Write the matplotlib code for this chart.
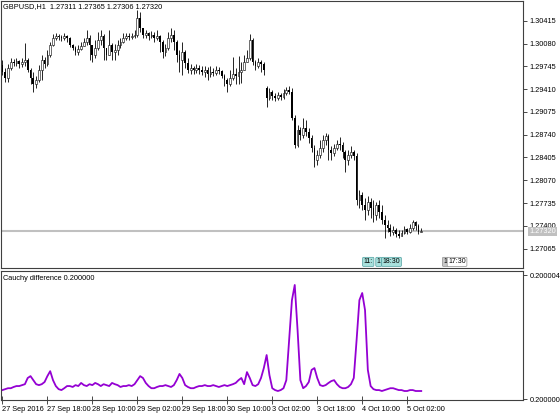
import numpy as np
import matplotlib.pyplot as plt

symbol = "GBPUSD,H1"

# hourly bars, 27 Sep 2016 02:00 .. 5 Oct 2016 07:00
opens = [
    1.29765, 1.29662, 1.29574, 1.29720, 1.29809, 1.29794, 1.29823, 1.29779, 1.29809, 1.29838,
    1.29691, 1.29574, 1.29485, 1.29544, 1.29691, 1.29838, 1.29779, 1.29912, 1.30059, 1.30161,
    1.30191, 1.30176, 1.30161, 1.30191, 1.30161, 1.30059, 1.30014, 1.29956, 1.30000, 1.30044,
    1.30103, 1.30161, 1.30059, 1.29912, 1.30014, 1.30132, 1.30191, 1.30014, 1.29912, 1.30059,
    1.29956, 1.29985, 1.30059, 1.30103, 1.30161, 1.30191, 1.30176, 1.30191, 1.30206, 1.30455,
    1.30308, 1.30206, 1.30235, 1.30191, 1.30206, 1.30161, 1.30191, 1.30103, 1.29956, 1.30014,
    1.30161, 1.30206, 1.30103, 1.29912, 1.29838, 1.29956, 1.29794, 1.29691, 1.29720, 1.29691,
    1.29720, 1.29691, 1.29662, 1.29691, 1.29632, 1.29662, 1.29647, 1.29691, 1.29676, 1.29603,
    1.29544, 1.29485, 1.29574, 1.29632, 1.29603, 1.29662, 1.29691, 1.29809, 1.29867, 1.30132,
    1.29809, 1.29750, 1.29809, 1.29779,
    1.29426, 1.29279, 1.29368, 1.29309, 1.29279, 1.29324, 1.29294, 1.29353, 1.29397, 1.29368,
    1.28985, 1.28589, 1.28809, 1.28736, 1.28838, 1.28780, 1.28691, 1.28544, 1.28368, 1.28442,
    1.28544, 1.28662, 1.28721, 1.28515, 1.28471, 1.28544, 1.28603, 1.28589, 1.28486, 1.28368,
    1.28442, 1.28486, 1.28427, 1.27780, 1.27854, 1.27707, 1.27633, 1.27751, 1.27662, 1.27560,
    1.27707, 1.27604, 1.27486, 1.27413, 1.27368, 1.27310, 1.27339, 1.27280, 1.27251, 1.27295,
    1.27354, 1.27310, 1.27368, 1.27457, 1.27398, 1.27311,
]
highs = [
    1.29838, 1.29720, 1.29779, 1.29867, 1.29853, 1.29867, 1.29838, 1.29867, 1.30088, 1.29867,
    1.29720, 1.29662, 1.29603, 1.29765, 1.29912, 1.29882, 1.29985, 1.30103, 1.30220, 1.30235,
    1.30220, 1.30206, 1.30235, 1.30206, 1.30176, 1.30073, 1.30044, 1.30059, 1.30103, 1.30161,
    1.30279, 1.30206, 1.30059, 1.30132, 1.30250, 1.30279, 1.30220, 1.30014, 1.30279, 1.30088,
    1.30073, 1.30132, 1.30161, 1.30235, 1.30235, 1.30235, 1.30235, 1.30279, 1.30573, 1.30544,
    1.30308, 1.30279, 1.30250, 1.30264, 1.30250, 1.30279, 1.30206, 1.30132, 1.30073, 1.30250,
    1.30308, 1.30279, 1.30132, 1.29985, 1.30103, 1.29985, 1.29867, 1.29779, 1.29750, 1.29779,
    1.29765, 1.29750, 1.29750, 1.29735, 1.29750, 1.29720, 1.29750, 1.29735, 1.29691, 1.29632,
    1.29574, 1.29691, 1.29882, 1.29720, 1.29897, 1.29809, 1.29912, 1.29985, 1.30220, 1.30161,
    1.29838, 1.29867, 1.29838, 1.29809,
    1.29456, 1.29426, 1.29397, 1.29353, 1.29368, 1.29353, 1.29412, 1.29441, 1.29456, 1.29426,
    1.29029, 1.28883, 1.28853, 1.28985, 1.28956, 1.28838, 1.28736, 1.28589, 1.28515, 1.28662,
    1.28736, 1.28765, 1.28750, 1.28574, 1.28603, 1.28662, 1.28706, 1.28633, 1.28515, 1.28515,
    1.28574, 1.28515, 1.28471, 1.27927, 1.27898, 1.27809, 1.27839, 1.27809, 1.27780, 1.27751,
    1.27780, 1.27707, 1.27560, 1.27486, 1.27427, 1.27398, 1.27368, 1.27339, 1.27339, 1.27398,
    1.27368, 1.27427, 1.27486, 1.27471, 1.27427, 1.27365,
]
lows = [
    1.29618, 1.29515, 1.29515, 1.29691, 1.29750, 1.29750, 1.29720, 1.29735, 1.29750, 1.29662,
    1.29485, 1.29368, 1.29426, 1.29515, 1.29544, 1.29720, 1.29750, 1.29882, 1.30044, 1.30132,
    1.30132, 1.30117, 1.30132, 1.30103, 1.30029, 1.29985, 1.29912, 1.29912, 1.29985, 1.30044,
    1.30059, 1.29838, 1.29809, 1.29867, 1.29985, 1.30059, 1.29838, 1.29838, 1.29912, 1.29838,
    1.29838, 1.29912, 1.30014, 1.30088, 1.30132, 1.30132, 1.30147, 1.30161, 1.30176, 1.30250,
    1.30161, 1.30161, 1.30132, 1.30161, 1.30103, 1.30132, 1.29956, 1.29867, 1.29897, 1.29985,
    1.30103, 1.29985, 1.29809, 1.29662, 1.29618, 1.29720, 1.29647, 1.29632, 1.29632, 1.29647,
    1.29632, 1.29618, 1.29588, 1.29544, 1.29588, 1.29603, 1.29618, 1.29632, 1.29574, 1.29456,
    1.29368, 1.29456, 1.29544, 1.29485, 1.29485, 1.29500, 1.29691, 1.29809, 1.29838, 1.29765,
    1.29691, 1.29720, 1.29662, 1.29618,
    1.29147, 1.29250, 1.29250, 1.29235, 1.29250, 1.29250, 1.29265, 1.29324, 1.29338, 1.28956,
    1.28544, 1.28559, 1.28662, 1.28691, 1.28721, 1.28618, 1.28486, 1.28265, 1.28295, 1.28397,
    1.28486, 1.28589, 1.28368, 1.28368, 1.28427, 1.28515, 1.28515, 1.28397, 1.28192, 1.28295,
    1.28397, 1.28368, 1.27707, 1.27662, 1.27633, 1.27486, 1.27560, 1.27516, 1.27457, 1.27486,
    1.27516, 1.27427, 1.27221, 1.27310, 1.27251, 1.27266, 1.27236, 1.27221, 1.27251, 1.27280,
    1.27280, 1.27295, 1.27339, 1.27339, 1.27280, 1.27306,
]
closes = [
    1.29662, 1.29574, 1.29720, 1.29809, 1.29794, 1.29823, 1.29779, 1.29809, 1.29838, 1.29691,
    1.29574, 1.29485, 1.29544, 1.29691, 1.29838, 1.29779, 1.29912, 1.30059, 1.30161, 1.30191,
    1.30176, 1.30161, 1.30191, 1.30161, 1.30059, 1.30014, 1.29956, 1.30000, 1.30044, 1.30103,
    1.30161, 1.30059, 1.29912, 1.30014, 1.30132, 1.30191, 1.30014, 1.29912, 1.30059, 1.29956,
    1.29985, 1.30059, 1.30103, 1.30161, 1.30191, 1.30176, 1.30191, 1.30206, 1.30455, 1.30308,
    1.30206, 1.30235, 1.30191, 1.30206, 1.30161, 1.30191, 1.30103, 1.29956, 1.30014, 1.30161,
    1.30206, 1.30103, 1.29912, 1.29838, 1.29956, 1.29794, 1.29691, 1.29720, 1.29691, 1.29720,
    1.29691, 1.29662, 1.29691, 1.29632, 1.29662, 1.29647, 1.29691, 1.29676, 1.29603, 1.29544,
    1.29485, 1.29574, 1.29632, 1.29603, 1.29662, 1.29691, 1.29809, 1.29867, 1.30132, 1.29809,
    1.29750, 1.29809, 1.29779, 1.29691,
    1.29279, 1.29368, 1.29309, 1.29279, 1.29324, 1.29294, 1.29353, 1.29397, 1.29368, 1.28985,
    1.28589, 1.28809, 1.28736, 1.28838, 1.28780, 1.28691, 1.28544, 1.28368, 1.28442, 1.28544,
    1.28662, 1.28721, 1.28515, 1.28471, 1.28544, 1.28603, 1.28589, 1.28486, 1.28368, 1.28442,
    1.28486, 1.28427, 1.27780, 1.27854, 1.27707, 1.27633, 1.27751, 1.27662, 1.27560, 1.27707,
    1.27604, 1.27486, 1.27413, 1.27368, 1.27310, 1.27339, 1.27280, 1.27251, 1.27295, 1.27354,
    1.27310, 1.27368, 1.27457, 1.27398, 1.27311, 1.27320,
]

# Cauchy difference minus 0.2, in millionths
cauchy_micro = [
    0.29, 0.32, 0.35, 0.35, 0.39, 0.42, 0.42, 0.45, 0.48, 0.68,
    0.74, 0.61, 0.48, 0.45, 0.48, 0.55, 0.74, 0.90, 0.61, 0.42,
    0.32, 0.29, 0.35, 0.42, 0.42, 0.39, 0.45, 0.42, 0.52, 0.45,
    0.42, 0.48, 0.45, 0.52, 0.48, 0.42, 0.48, 0.45, 0.42, 0.52,
    0.48, 0.45, 0.39, 0.42, 0.42, 0.45, 0.42, 0.48, 0.61, 0.74,
    0.68, 0.52, 0.42, 0.35, 0.35, 0.39, 0.42, 0.42, 0.45, 0.42,
    0.39, 0.45, 0.61, 0.81, 0.68, 0.45, 0.39, 0.35, 0.35, 0.39,
    0.42, 0.42, 0.45, 0.42, 0.42, 0.45, 0.42, 0.39, 0.42, 0.45,
    0.42, 0.45, 0.48, 0.52, 0.61, 0.68, 0.48, 0.87, 0.68, 0.45,
    0.42, 0.48, 0.68, 1.00, 1.42, 0.77, 0.35, 0.29, 0.26, 0.29,
    0.35, 0.61, 1.90, 3.19, 3.68, 2.23, 0.61, 0.35, 0.42, 0.55,
    0.94, 1.00, 0.68, 0.45, 0.42, 0.45, 0.52, 0.58, 0.61, 0.48,
    0.39, 0.35, 0.35, 0.39, 0.48, 0.68, 1.90, 3.19, 3.42, 2.87,
    0.94, 0.42, 0.32, 0.29, 0.29, 0.26, 0.29, 0.32, 0.35, 0.35,
    0.32, 0.29, 0.29, 0.26, 0.26, 0.29, 0.29, 0.26, 0.26, 0.26,
]

date_ticks = [0, 16, 32, 48, 64, 80, 96, 112, 128, 144]
date_labels = ["27 Sep 2016", "27 Sep 18:00", "28 Sep 10:00", "29 Sep 02:00",
               "29 Sep 18:00", "30 Sep 10:00", "3 Oct 02:00", "3 Oct 18:00",
               "4 Oct 10:00", "5 Oct 02:00"]
price_ticks = [1.30415, 1.30080, 1.29745, 1.29410, 1.29075, 1.28740,
               1.28405, 1.28070, 1.27735, 1.27400, 1.27065]

plt.rcParams['font.family'] = ['Liberation Sans', 'DejaVu Sans']
plt.rcParams['font.size'] = 5.3

W, H = 560, 420
fig = plt.figure(figsize=(W / 100, H / 100), dpi=100)


def px_axes(x0, y0, x1, y1):
    # axes from pixel box (top-left origin)
    return fig.add_axes([x0 / W, 1 - y1 / H, (x1 - x0) / W, (y1 - y0) / H])


ax = px_axes(1, 1, 523, 268)
ax2 = px_axes(1, 271, 523, 400)

o, h, l, c = map(np.array, (opens, highs, lows, closes))
x = np.arange(len(c))
up = c >= o

# current price line
ax.axhline(c[-1], color='#c0c0c0', lw=1.5, zorder=0)

ax.vlines(x, l, h, color='black', lw=0.6, zorder=2)
ax.bar(x[up], c[up] - o[up], bottom=o[up], width=0.62,
       facecolor='white', edgecolor='black', lw=0.4, zorder=3)
ax.bar(x[~up], o[~up] - c[~up], bottom=c[~up], width=0.62,
       color='black', lw=0, zorder=3)

xlim = (-0.5, 185.2)
ax.set_xlim(*xlim)
ax.set_ylim(1.26780, 1.30705)
ax.yaxis.tick_right()
ax.set_yticks(price_ticks)
ax.set_yticklabels([f"{p:.5f}" for p in price_ticks])
ax.tick_params(axis='y', length=3, width=0.5, pad=1.5, colors='black')
ax.tick_params(axis='x', bottom=False, labelbottom=False)

ax.annotate(f"{c[-1]:.5f}", xy=(1.0, c[-1]), xycoords=ax.get_yaxis_transform(),
            xytext=(4.5, 0), textcoords='offset points', ha='left', va='center',
            color='white', zorder=5,
            bbox=dict(boxstyle='square,pad=0.15', fc='#c0c0c0', ec='none'))

# event markers at the bottom of the price panel
events = [(128.5, "11:", '#a8e0dc', '#50a0a0'),
          (133.2, "1", '#a8e0dc', '#50a0a0'),
          (135.3, "18:30", '#a8e0dc', '#50a0a0'),
          (156.9, "1", '#c8c8c8', '#909090'),
          (158.6, "17:30", 'white', '#909090')]
for ex, txt, fc, ec in events:
    ax.text(ex, 0.023, txt, transform=ax.get_xaxis_transform(), ha='left',
            va='center', fontsize=5, zorder=6,
            bbox=dict(boxstyle='round,pad=0.15', fc=fc, ec=ec, lw=0.5))

for a in (ax, ax2):
    for s in a.spines.values():
        s.set_color('#404040')
        s.set_linewidth(0.8)

ax2.plot(x, 0.2 + np.array(cauchy_micro) * 1e-6, color='#9400d3', lw=1.3)
ax2.set_xlim(*xlim)
ax2.set_ylim(0.2 - 0.03e-6, 0.2 + 4.13e-6)
ax2.yaxis.tick_right()
ax2.set_yticks([0.2, 0.200004])
ax2.set_yticklabels(["0.200000", "0.200004"])
ax2.tick_params(axis='y', length=3, width=0.5, pad=1.5)
ax2.set_xticks(date_ticks)
ax2.set_xticklabels(date_labels, ha='left')
ax2.tick_params(axis='x', direction='inout', length=6, width=0.5, pad=1)

fig.text(3 / W, 1 - 7 / H,
         f"{symbol}  {opens[-1]:.5f} {highs[-1]:.5f} {lows[-1]:.5f} {closes[-1]:.5f}",
         va='center', ha='left')
fig.text(3 / W, 1 - 278 / H,
         f"Cauchy difference {0.2 + cauchy_micro[-1] * 1e-6:.6f}",
         va='center', ha='left')

fig.savefig("out.png", dpi=100, facecolor='white')
